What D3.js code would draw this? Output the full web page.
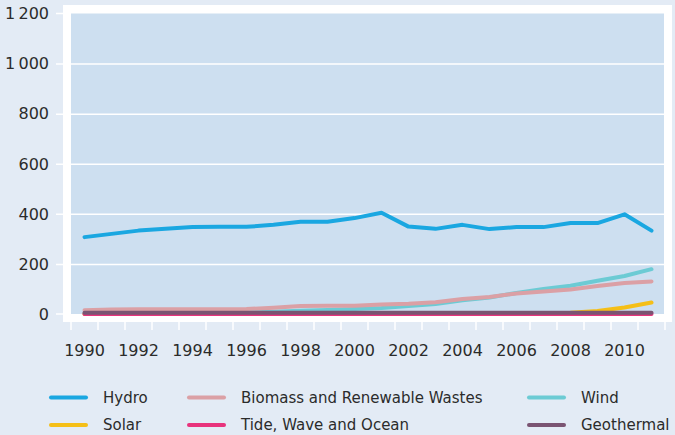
<!DOCTYPE html>
<html>
<head>
<meta charset="utf-8">
<script src="https://cdn.jsdelivr.net/npm/d3@7"></script>
<style>
  html, body { margin: 0; padding: 0; background: #e3ebf5; }
  svg { display: block; }
  text { font-family: "DejaVu Sans", sans-serif; fill: #2b2b2b; }
</style>
</head>
<body>
<svg id="chart" width="675" height="435"></svg>
<script>
// Renewable electricity generation by source, 1990–2011
const years = d3.range(1990, 2012);
const yearLabels = [1990, 1992, 1994, 1996, 1998, 2000, 2002, 2004, 2006, 2008, 2010];
const yTicks = [0, 200, 400, 600, 800, 1000, 1200];
const yTickLabels = ["0", "200", "400", "600", "800", "1\u2009000", "1\u2009200"];

const hydro      = [307, 320, 333, 340, 347, 348, 348, 356, 368, 368, 383, 404, 349, 340, 356, 339, 347, 347, 363, 363, 398, 333];
const biomass    = [15, 18, 19, 19, 19, 19, 20, 25, 32, 33, 33, 38, 41, 47, 60, 68, 82, 90, 98, 112, 124, 130];
const wind       = [1, 1, 2, 2, 3, 4, 6, 9, 13, 16, 20, 24, 32, 40, 55, 66, 84, 100, 113, 133, 152, 179];
const solar      = [0, 0, 0, 0, 0, 0, 0, 0, 0, 0, 0, 0, 0, 0, 0, 0, 0.5, 2, 5, 12, 26, 46];
const tide       = [0.5, 0.5, 0.5, 0.5, 0.5, 0.5, 0.5, 0.5, 0.5, 0.5, 0.5, 0.5, 0.5, 0.5, 0.5, 0.5, 0.5, 0.5, 0.5, 0.5, 0.5, 0.5];
const geothermal = [5, 5, 5, 5, 5, 5, 5, 5, 5, 5, 5, 5, 5, 5, 5, 5, 5, 5, 5, 5, 5, 5];

const seriesNames  = ["Hydro", "Biomass and Renewable Wastes", "Wind", "Solar", "Tide, Wave and Ocean", "Geothermal"];
const seriesValues = [hydro, biomass, wind, solar, tide, geothermal];
const seriesColors = ["#1aa7e1", "#dba0a5", "#6ccbd4", "#f5bf17", "#e8337c", "#7a5472"];
// painting order: wind sits beneath biomass, geothermal on top
const drawOrder = [0, 2, 1, 3, 4, 5];

const svg = d3.select("#chart");

const x = d3.scaleBand().domain(years).range([71, 665]).padding(0);
const y = d3.scaleLinear().domain([0, 1200]).range([314, 13.5]);
const cx = d => x(d) + x.bandwidth() / 2;

// white frame and plot panel
svg.append("rect").attr("x", 63).attr("y", 5).attr("width", 609).attr("height", 317).attr("fill", "#ffffff");
svg.append("rect").attr("x", 71).attr("y", y(1200)).attr("width", 593).attr("height", y(0) - y(1200)).attr("fill", "#cddff0");

// y axis: white grid lines running out into tick marks
const yAxis = d3.axisLeft(y)
  .tickValues(yTicks.slice(1, -1))
  .tickSize(664 - 56)
  .tickFormat("");
svg.append("g")
  .attr("transform", "translate(664,0)")
  .call(yAxis)
  .call(g => g.select(".domain").remove())
  .call(g => g.selectAll("line").attr("stroke", "#ffffff").attr("stroke-width", 1.5));

// short ticks for 0 and 1200 outside the panel
svg.append("g").selectAll("line")
  .data([0, 1200])
  .join("line")
  .attr("x1", 56).attr("x2", 63)
  .attr("y1", d => y(d)).attr("y2", d => y(d))
  .attr("stroke", "#ffffff").attr("stroke-width", 1.5);

svg.append("g").selectAll("text")
  .data(yTicks)
  .join("text")
  .attr("x", 49)
  .attr("y", d => y(d))
  .attr("dy", "0.36em")
  .attr("text-anchor", "end")
  .attr("font-size", 16)
  .text((d, i) => yTickLabels[i]);

// x axis: ticks at band boundaries, labels every second year
const bounds = years.map(d => x(d)).concat([x(years[years.length - 1]) + x.bandwidth()]);
svg.append("g").selectAll("line")
  .data(bounds)
  .join("line")
  .attr("x1", d => d).attr("x2", d => d)
  .attr("y1", 322).attr("y2", 330)
  .attr("stroke", "#ffffff").attr("stroke-width", 1.5);

svg.append("g").selectAll("text")
  .data(yearLabels)
  .join("text")
  .attr("x", d => cx(d))
  .attr("y", 356)
  .attr("text-anchor", "middle")
  .attr("font-size", 16)
  .text(d => d);

// series lines
const line = d3.line()
  .x((d, i) => cx(years[i]))
  .y(d => y(d))
  .curve(d3.curveLinear);

svg.append("g").selectAll("path")
  .data(drawOrder)
  .join("path")
  .attr("d", k => line(seriesValues[k]))
  .attr("fill", "none")
  .attr("stroke", k => seriesColors[k])
  .attr("stroke-width", 4)
  .attr("stroke-linejoin", "round")
  .attr("stroke-linecap", "round");

// legend, three columns by two rows
const legendCols = [51, 189, 529];
const legendRows = [397.5, 425];
const legend = svg.append("g").selectAll("g")
  .data(seriesNames)
  .join("g")
  .attr("transform", (d, i) => `translate(${legendCols[i % 3]},${legendRows[Math.floor(i / 3)]})`);
legend.append("line")
  .attr("x1", 0).attr("x2", 35)
  .attr("stroke", (d, i) => seriesColors[i])
  .attr("stroke-width", 4)
  .attr("stroke-linecap", "round");
legend.append("text")
  .attr("x", 52)
  .attr("dy", "0.36em")
  .attr("font-size", 15)
  .text(d => d);
</script>
</body>
</html>
